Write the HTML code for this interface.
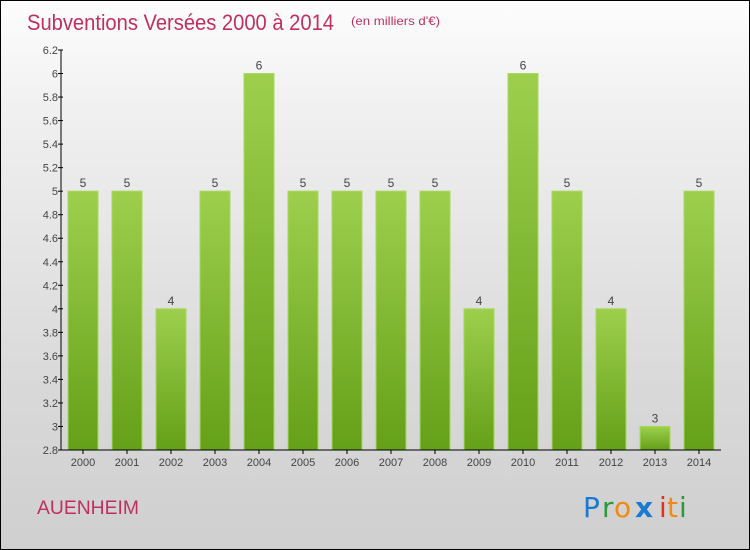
<!DOCTYPE html>
<html><head><meta charset="utf-8"><style>
body{margin:0;}
#wrap{position:relative;width:748px;height:548px;border:1px solid #000;background:linear-gradient(#fdfdfd,#f0f0f0 20%,#d9d9d9 70%,#cfcfcf);font-family:"Liberation Sans",sans-serif;overflow:hidden}
</style></head><body>
<div id="wrap">
<svg id="chart" width="748" height="548">
<defs><linearGradient id="g" x1="0" y1="0" x2="0" y2="1"><stop offset="0" stop-color="#9dcf4d"/><stop offset="1" stop-color="#64a018"/></linearGradient></defs>
<text x="26" y="29" font-size="22" fill="#c0305f" textLength="307" lengthAdjust="spacingAndGlyphs">Subventions Versées 2000 à 2014</text>
<text x="350" y="24" font-size="12" fill="#c0305f" textLength="89" lengthAdjust="spacingAndGlyphs">(en milliers d'€)</text>
<text x="36" y="513" font-size="19" fill="#c0305f" textLength="102" lengthAdjust="spacingAndGlyphs">AUENHEIM</text>
<g font-size="28" font-family="'DejaVu Sans',sans-serif">
<text x="582" y="516" fill="#1a7ad0">P</text><text x="601" y="516" fill="#2a9a3a">r</text><text x="613" y="516" fill="#f08a10">o</text><text x="634" y="516" fill="#1a7ad0" font-weight="bold">x</text><text x="658" y="516" fill="#e03020">i</text><text x="666" y="516" fill="#f08a10">t</text><text x="678" y="516" fill="#2a9a3a">i</text></g>
<g id="plot"></g>
</svg>
</div>
<script>
const categories=["2000","2001","2002","2003","2004","2005","2006","2007","2008","2009","2010","2011","2012","2013","2014"];
const values=[5,5,4,5,6,5,5,5,5,4,6,5,4,3,5];
const labels=["5","5","4","5","6","5","5","5","5","4","6","5","4","3","5"];
const yTicks=[2.8,3,3.2,3.4,3.6,3.8,4,4.2,4.4,4.6,4.8,5,5.2,5.4,5.6,5.8,6,6.2];
const yTickLabels=["2.8","3","3.2","3.4","3.6","3.8","4","4.2","4.4","4.6","4.8","5","5.2","5.4","5.6","5.8","6","6.2"];
const NS="http://www.w3.org/2000/svg";
const g=document.getElementById('plot');
const x0=60,x1=720,yTop=49,yBot=449,ymin=2.8,ymax=6.2;
const band=(x1-x0)/categories.length;
const y=v=>yBot-(v-ymin)/(ymax-ymin)*(yBot-yTop);
const xc=i=>x0+band*(i+0.5);
function mk(t,a){const e=document.createElementNS(NS,t);for(const k in a)e.setAttribute(k,a[k]);g.appendChild(e);return e;}
values.forEach((v,i)=>{
 const r=mk('rect',{x:xc(i)-15,y:y(v),width:30,height:yBot-y(v),fill:'url(#g)',stroke:'#a8d85c','stroke-width':1});
 
 
 const t=mk('text',{x:xc(i),y:y(v)-4,'text-anchor':'middle','font-size':12,fill:'#444'});
 t.textContent=labels[i];
 
 
 const xl=mk('text',{x:xc(i),y:yBot+16,'text-anchor':'middle','font-size':11,fill:'#444'});
 xl.textContent=categories[i];
 
 
 mk('line',{x1:xc(i),x2:xc(i),y1:yBot,y2:yBot+4,stroke:'#000'});
});
yTicks.forEach((v,i)=>{
 mk('line',{x1:x0-3,x2:x0+2,y1:y(v),y2:y(v),stroke:'#000'});
 const t=mk('text',{x:x0-3,y:y(v)+4,'text-anchor':'end','font-size':11,fill:'#444'});
 t.textContent=yTickLabels[i];
 
 
});
const ya=mk('line',{x1:x0,x2:x0,y1:yTop,y2:yBot,stroke:'#000'});


const xa=mk('line',{x1:x0,x2:x1,y1:yBot,y2:yBot,stroke:'#000'});


</script>
</body></html>
